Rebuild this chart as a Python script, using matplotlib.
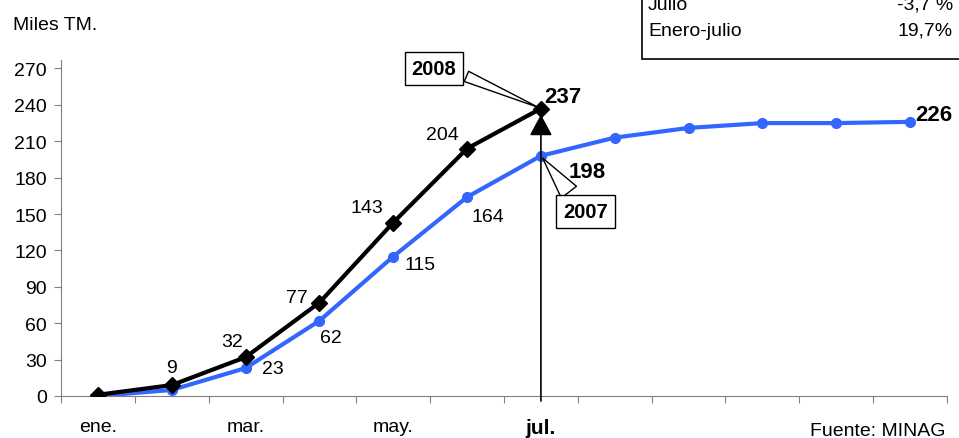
import matplotlib
matplotlib.use('Agg')
import matplotlib.pyplot as plt
from matplotlib.patches import Rectangle

plt.rcParams['font.family'] = ['Liberation Sans', 'DejaVu Sans']

# datos (miles de TM, acumulado)
meses = ['ene.', 'feb.', 'mar.', 'abr.', 'may.', 'jun.', 'jul.', 'ago.', 'set.', 'oct.', 'nov.', 'dic.']
etiquetas_x = ['ene.', '', 'mar.', '', 'may.', '', 'jul.', '', '', '', '', '']
v2008 = [1, 9, 32, 77, 143, 204, 237]
v2007 = [0, 5, 23, 62, 115, 164, 198, 213, 221, 225, 225, 226]
yticks = [0, 30, 60, 90, 120, 150, 180, 210, 240, 270]

# posicion de las etiquetas (offset en puntos)
off2008 = [None, (0, 13), (-10, 11), (-16, 4), (-19, 11), (-18, 10), (16, 9)]
off2007 = [None, None, (20, 0), (8, -12), (19, -6), (15, -14), (33, -11),
           None, None, None, None, (17, 5)]
bold2007 = {6, 11}

fs = 14
fig = plt.figure(figsize=(9.59, 4.39), dpi=100)
ax = fig.add_axes([61/959, 1 - 397/439, (947 - 61)/959, (397 - 61)/439])

x8 = list(range(len(v2008)))
x7 = list(range(len(v2007)))
ax.plot(x7, v2007, color='#3366ff', lw=3, marker='o', ms=7, zorder=3)
ax.plot(x8, v2008, color='black', lw=3, marker='D', ms=8, zorder=4)

ax.set_xlim(-0.5, 11.5)
ax.set_ylim(0, 277)

for i, v in enumerate(v2008):
    if off2008[i] is None:
        continue
    b = i == 6
    ax.annotate(str(v), (i, v), xytext=off2008[i], textcoords='offset points',
                ha='center', va='center', fontsize=16 if b else 14,
                fontweight='bold' if b else 'normal', zorder=6)
for i, v in enumerate(v2007):
    if off2007[i] is None:
        continue
    b = i in bold2007
    ax.annotate(str(v), (i, v), xytext=off2007[i], textcoords='offset points',
                ha='center', va='center', fontsize=16 if b else 14,
                fontweight='bold' if b else 'normal', zorder=6)

# flecha de julio
ax.annotate('', xy=(6, v2008[6] - 5), xytext=(6, -0.015), xycoords='data',
            textcoords=ax.get_xaxis_transform(),
            arrowprops=dict(arrowstyle='-|>,head_length=1.3,head_width=0.7',
                            color='black', lw=1.2, shrinkA=0, shrinkB=0), zorder=5)

# recuadros 2008 / 2007
caja = dict(boxstyle='square,pad=0.35', fc='white', ec='black', lw=1)
ax.annotate('2008', (6, v2008[6]), xytext=(-77, 29), textcoords='offset points',
            ha='center', va='center', fontsize=14.5, fontweight='bold', bbox=caja,
            arrowprops=dict(arrowstyle='wedge,tail_width=0.55,shrink_factor=0.5',
                            fc='white', ec='black', lw=1, shrinkB=2, relpos=(1, 0.3)),
            zorder=7)
ax.annotate('2007', (6, v2007[6]), xytext=(32, -40), textcoords='offset points',
            ha='center', va='center', fontsize=14.5, fontweight='bold', bbox=caja,
            arrowprops=dict(arrowstyle='wedge,tail_width=0.95,shrink_factor=0.5',
                            fc='white', ec='black', lw=1, shrinkB=2, relpos=(0.3, 1)),
            zorder=7)

# ejes
for s in ['top', 'right']:
    ax.spines[s].set_visible(False)
for s in ['left', 'bottom']:
    ax.spines[s].set_color('#808080')
ax.set_yticks(yticks)
ax.tick_params(axis='y', length=5, color='#808080', labelsize=fs, pad=5)
ax.set_xticks([i - 0.5 for i in range(13)])
ax.set_xticklabels([])
ax.tick_params(axis='x', which='major', length=5, color='#808080')
ax.set_xticks(range(12), minor=True)
ax.set_xticklabels(etiquetas_x, minor=True)
ax.tick_params(axis='x', which='minor', length=0, labelsize=fs, pad=16)
for t in ax.get_xticklabels(minor=True):
    if t.get_text() == 'jul.':
        t.set_fontweight('bold')
        t.set_fontsize(15)

fig.text(13/959, 1 - 25/439, 'Miles TM.', fontsize=fs, va='center', ha='left')
fig.text(945/959, 1 - 432/439, 'Fuente: MINAG', fontsize=fs, va='center', ha='right')

# recuadro de variacion (cortado por arriba)
fig.patches.append(Rectangle((642/959, 1 - 60/439), 0.5, 0.3, transform=fig.transFigure,
                             fc='white', ec='black', lw=1.2))
fig.text(648/959, 1 - 10/439, 'Julio', fontsize=fs, va='baseline')
fig.text(953/959, 1 - 10/439, '-3,7 %', fontsize=fs, va='baseline', ha='right')
fig.text(648/959, 1 - 36/439, 'Enero-julio', fontsize=fs, va='baseline')
fig.text(953/959, 1 - 36/439, '19,7%', fontsize=fs, va='baseline', ha='right')

fig.savefig('out.png', dpi=100)
